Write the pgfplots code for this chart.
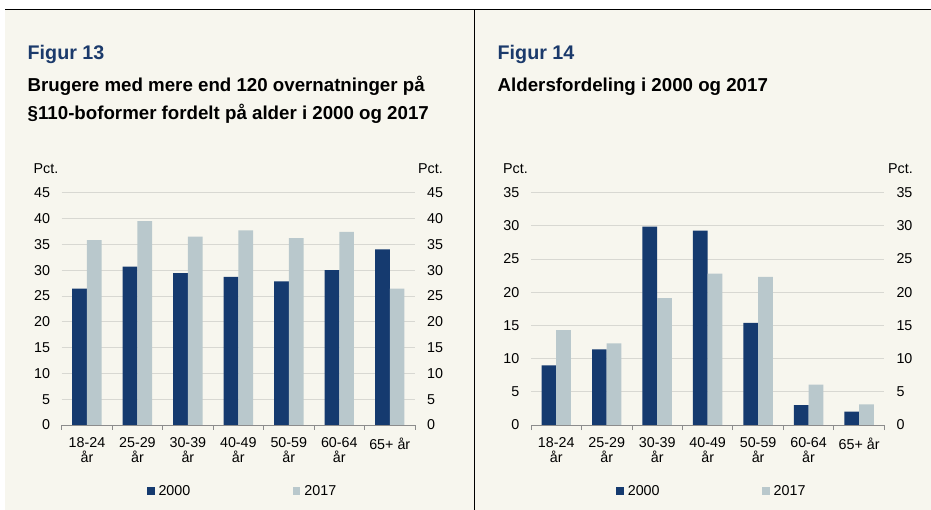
\documentclass[border=0pt]{standalone}
\usepackage{pgfplots}
\pgfplotsset{compat=1.18}
\usepackage{fontspec}
\setmainfont{Liberation Sans}
\definecolor{bg}{RGB}{247,246,238}
\definecolor{navy}{RGB}{21,58,111}
\definecolor{lightb}{RGB}{185,200,204}
\definecolor{gridc}{RGB}{216,216,210}
\definecolor{axc}{RGB}{140,140,140}
\definecolor{titleblue}{RGB}{27,58,107}
\newcommand{\tf}{\fontsize{14.3bp}{15.3bp}\selectfont}

\pgfplotsset{
 base/.style={
  scale only axis, width=353.3bp, height=232.3bp,
  xmin=-0.5, xmax=6.5, ymin=0,
  /pgf/number format/assume math mode=true,
  tick label style={font=\tf},
  major tick length=0pt,
 },
 main/.style={
  base,
  axis x line*=bottom, axis y line*=left,
  y axis line style={draw=none},
  x axis line style={draw=axc, line width=0.8bp},
  xtick={0,...,6},
  xticklabels={{18-24\\år},{25-29\\år},{30-39\\år},{40-49\\år},{50-59\\år},{60-64\\år},{65+ år}},
  xticklabel style={align=center, anchor=north, inner sep=0pt, yshift=-12.3bp},
  minor xtick={-0.5,0.5,...,6.5},
  minor tick length=5bp, tick align=outside,
  minor tick style={draw=axc, line width=0.8bp},
  ymajorgrids, grid style={draw=gridc, line width=0.8bp},
  yticklabel style={anchor=east, inner sep=0pt, xshift=-11.5bp},
  ybar=0pt, bar width=14.7bp,
  legend columns=2,
  legend image code/.code={\fill[##1] (0bp,-3.8bp) rectangle (7.6bp,3.8bp);},
  legend style={at={(0.2406,-0.2837)}, anchor=west, draw=none, fill=none, inner sep=0pt, font=\tf, nodes={inner sep=0pt},
    /tikz/every odd column/.append style={column sep=4bp},
    /tikz/every even column/.append style={column sep=102.5bp}},
 },
 side/.style={
  base, hide x axis, axis y line*=right, y axis line style={draw=none},
  yticklabel style={anchor=west, inner sep=0pt, xshift=12bp},
 },
}

\begin{document}
\begin{tikzpicture}
\path[use as bounding box] (0bp,0bp) rectangle (931bp,510bp);
\fill[white] (0bp,0bp) rectangle (931bp,510bp);
\fill[bg] (5bp,0bp) rectangle (931bp,500bp);
\draw[black, line width=1bp] (5bp,500bp) -- (931bp,500bp);
\draw[black, line width=1bp] (474.5bp,0bp) -- (474.5bp,500bp);

% Titles
\node[anchor=base west, inner sep=0pt, font=\bfseries\fontsize{19.7bp}{22bp}\selectfont, text=titleblue] at (27.5bp,450bp) {Figur 13};
\node[anchor=base west, inner sep=0pt, font=\bfseries\fontsize{18.7bp}{21bp}\selectfont] at (27.5bp,418.3bp) {Brugere med mere end 120 overnatninger på};
\node[anchor=base west, inner sep=0pt, font=\bfseries\fontsize{18.7bp}{21bp}\selectfont] at (27.5bp,390bp) {§110-boformer fordelt på alder i 2000 og 2017};
\node[anchor=base west, inner sep=0pt, font=\bfseries\fontsize{19.7bp}{22bp}\selectfont, text=titleblue] at (497.5bp,450bp) {Figur 14};
\node[anchor=base west, inner sep=0pt, font=\bfseries\fontsize{18.7bp}{21bp}\selectfont] at (497.5bp,418.3bp) {Aldersfordeling i 2000 og 2017};

% Pct. labels
\node[anchor=base west, inner sep=0pt, font=\tf] at (33.5bp,336.7bp) {Pct.};
\node[anchor=base west, inner sep=0pt, font=\tf] at (418bp,336.7bp) {Pct.};
\node[anchor=base west, inner sep=0pt, font=\tf] at (503bp,336.7bp) {Pct.};
\node[anchor=base west, inner sep=0pt, font=\tf] at (888bp,336.7bp) {Pct.};

% Figure 13
\begin{axis}[main, at={(61.7bp,85bp)}, anchor=south west, ymax=45, ytick={0,5,...,45}]
\addplot[fill=navy, draw=none] coordinates {(0,26.4) (1,30.7) (2,29.4) (3,28.7) (4,27.8) (5,30.0) (6,34.0)};
\addplot[fill=lightb, draw=none] coordinates {(0,35.8) (1,39.5) (2,36.5) (3,37.7) (4,36.2) (5,37.4) (6,26.4)};
\legend{2000,2017}
\end{axis}
\begin{axis}[side, at={(61.7bp,85bp)}, anchor=south west, ymax=45, ytick={0,5,...,45}]
\end{axis}

% Figure 14
\begin{axis}[main, at={(531bp,85bp)}, anchor=south west, ymax=35, ytick={0,5,...,35}]
\addplot[fill=navy, draw=none] coordinates {(0,9.0) (1,11.4) (2,29.9) (3,29.3) (4,15.4) (5,3.0) (6,2.0)};
\addplot[fill=lightb, draw=none] coordinates {(0,14.3) (1,12.3) (2,19.1) (3,22.8) (4,22.3) (5,6.1) (6,3.1)};
\legend{2000,2017}
\end{axis}
\begin{axis}[side, at={(531bp,85bp)}, anchor=south west, ymax=35, ytick={0,5,...,35}]
\end{axis}
\end{tikzpicture}
\end{document}
